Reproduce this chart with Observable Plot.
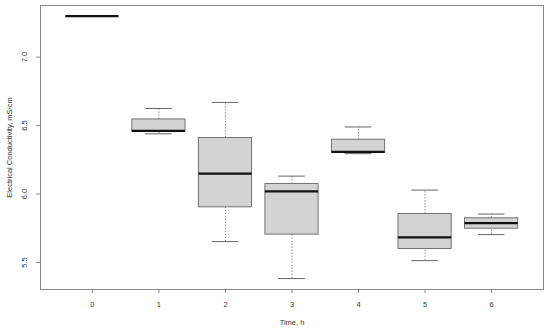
<!DOCTYPE html>
<html>
<head>
<meta charset="utf-8">
<script src="https://cdn.jsdelivr.net/npm/d3@7"></script>
<script src="https://cdn.jsdelivr.net/npm/@observablehq/plot@0.6"></script>
<style>
  html, body { margin: 0; padding: 0; background: #fff; }
  svg { font-family: "Liberation Sans", Arial, sans-serif; }
</style>
</head>
<body>
<div id="chart"></div>
<script>
const times   = [0, 1, 2, 3, 4, 5, 6];
const lower   = [7.30, 6.440, 5.653, 5.383, 6.295, 5.514, 5.704];
const q1      = [7.30, 6.455, 5.903, 5.704, 6.300, 5.599, 5.747];
const median  = [7.30, 6.462, 6.149, 6.020, 6.308, 5.684, 5.788];
const q3      = [7.30, 6.545, 6.409, 6.073, 6.397, 5.854, 5.823];
const upper   = [7.30, 6.625, 6.669, 6.131, 6.490, 6.029, 5.854];
const yTicks  = [5.5, 6.0, 6.5, 7.0];
const xTicks  = [0, 1, 2, 3, 4, 5, 6];

const data = times.map((t, i) => ({
  t, lo: lower[i], q1: q1[i], med: median[i], q3: q3[i], hi: upper[i]
}));
const boxes = data.filter(d => d.q3 > d.q1);
const whisk = data.filter(d => d.hi > d.lo);

const gray = "#8a8a8a";
const chart = Plot.plot({
  width: 550,
  height: 331,
  marginLeft: 40,
  marginTop: 5,
  marginBottom: 42,
  marginRight: 7,
  style: { fontSize: "7.5px", fontFamily: "Liberation Sans, Arial, sans-serif", color: "#333" },
  x: { domain: [-0.78, 6.78] },
  y: { domain: [5.303, 7.377] },
  marks: [
    Plot.ruleX(whisk, { x: "t", y1: "q3", y2: "hi", stroke: "#777", strokeDasharray: "1.5,1.5", strokeWidth: 0.8 }),
    Plot.ruleX(whisk, { x: "t", y1: "lo", y2: "q1", stroke: "#777", strokeDasharray: "1.5,1.5", strokeWidth: 0.8 }),
    Plot.ruleY(whisk, { y: "hi", x1: d => d.t - 0.2, x2: d => d.t + 0.2, stroke: "#555", strokeWidth: 0.9 }),
    Plot.ruleY(whisk, { y: "lo", x1: d => d.t - 0.2, x2: d => d.t + 0.2, stroke: "#555", strokeWidth: 0.9 }),
    Plot.rect(boxes, { x1: d => d.t - 0.4, x2: d => d.t + 0.4, y1: "q1", y2: "q3", fill: "#d3d3d3", stroke: "#666", strokeWidth: 0.9 }),
    Plot.ruleY(data, { y: "med", x1: d => d.t - 0.4, x2: d => d.t + 0.4, stroke: "#111", strokeWidth: 2.2 }),
    Plot.frame({ stroke: gray, strokeWidth: 1 }),
    Plot.axisY(yTicks, {
      tickSize: 4, stroke: gray, tickRotate: -90, tickPadding: 10,
      tickFormat: d => d.toFixed(1),
      label: "Electrical Conductivity, mS/cm", labelAnchor: "center", labelOffset: 34, labelArrow: "none"
    }),
    Plot.axisX(xTicks, {
      tickSize: 4, stroke: gray, tickPadding: 8,
      tickFormat: d => String(d),
      label: "Time, h", labelAnchor: "center", labelOffset: 35, labelArrow: "none"
    })
  ]
});
document.getElementById("chart").appendChild(chart);
</script>
</body>
</html>
